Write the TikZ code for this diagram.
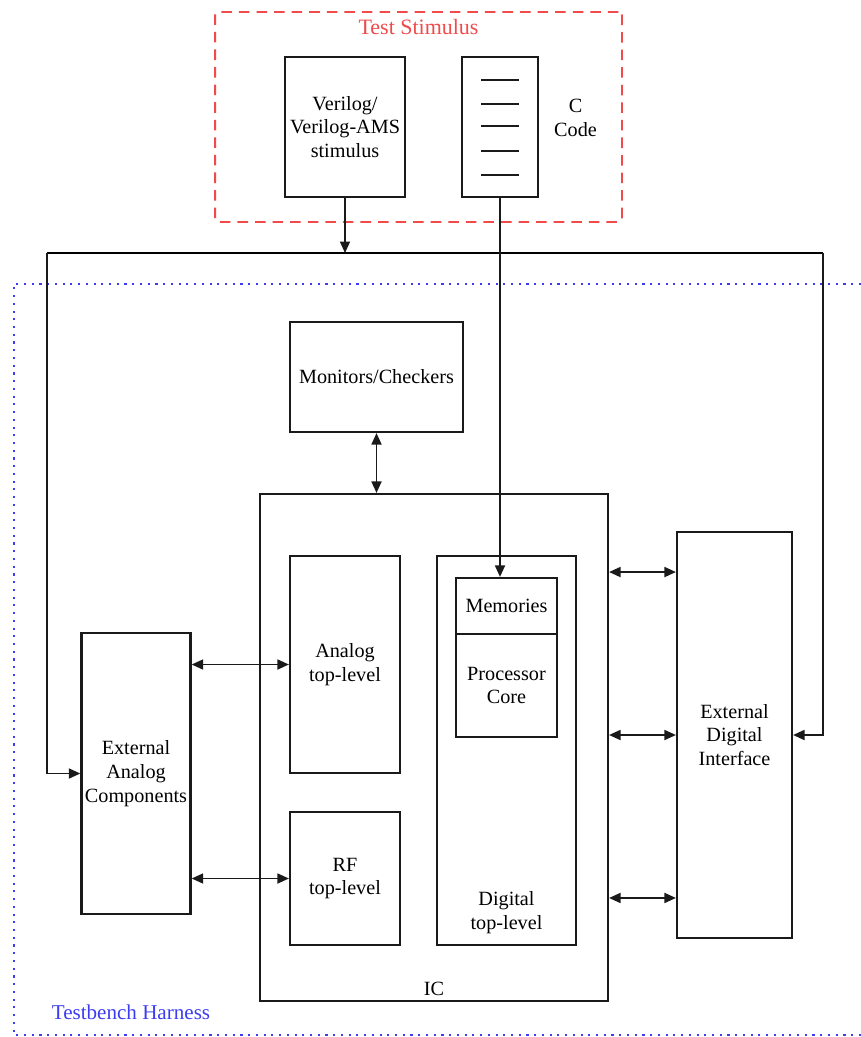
\documentclass[tikz,border=0pt]{standalone}
\usepackage{fontspec}
\setmainfont{Liberation Serif}
\usepackage{xcolor}
\definecolor{ink}{HTML}{1A1A1A}
\definecolor{stimred}{HTML}{F04A4A}
\definecolor{harnblue}{HTML}{3C3CF2}
\usetikzlibrary{arrows.meta,positioning,calc}
\tikzset{
  every picture/.style={font=\fontsize{11.5}{13.6}\selectfont, line width=1pt},
  blk/.style 2 args={draw=ink, line width=1.25pt, align=center, inner sep=2pt, minimum width=#1, minimum height=#2},
  arr/.style={-{Triangle[length=2.3mm, width=2mm]}, draw=ink},
  darr/.style={{Triangle[length=2.3mm, width=2mm]}-{Triangle[length=2.3mm, width=2mm]}, draw=ink},
  stimframe/.style={draw=stimred, dashed, dash pattern=on 6pt off 4pt, line width=1.1pt, rounded corners=2pt},
  harness/.style={draw=harnblue, line width=1pt, dash pattern=on 1.2pt off 3.2pt},
  tag/.style={align=center, inner sep=1pt},
}

\begin{document}
\begin{tikzpicture}[x=0.02cm, y=-0.02cm,
    codeline/.style={draw=ink, line width=1.1pt}]
  \useasboundingbox (0,0) rectangle (861,1037);
  % test stimulus
  \node[stimframe, minimum width=8.14cm, minimum height=4.2cm] (stim) at (418.5,117) {};
  \node[tag, text=stimred, font=\fontsize{12.5}{15}\selectfont, below=3pt of stim.north] (stimlbl) {Test Stimulus};
  \node[blk={2.4cm}{2.8cm}] (verilog) at (345,127) {Verilog/\\Verilog-AMS\\stimulus};
  \node[blk={1.52cm}{2.8cm}] (ccode) at (500,127) {};
  \foreach \y in {80,104,126,151,175}
    \draw[codeline] (481,\y) -- (519,\y);
  \node[tag, right=0.25cm of ccode.east, yshift=0.18cm] (ccodelbl) {C\\Code};
  % testbench harness
  \draw[harness] (861,284) -- (14,284) -- (14,1035) -- (861,1035);
  \node[tag, text=harnblue, font=\fontsize{12}{14}\selectfont] (harnlbl) at (131,1012) {Testbench Harness};
  \node[blk={3.46cm}{2.2cm}] (monitors) at (376.5,377) {Monitors/Checkers};
  \node[blk={6.96cm}{10.14cm}] (ic) at (434,747.5) {};
  \node[tag, above=2pt of ic.south] (iclbl) {IC};
  \node[blk={2.2cm}{4.34cm}] (analog) at (345,664.5) {Analog\\top-level};
  \node[blk={2.2cm}{2.66cm}] (rf) at (345,878.5) {RF\\top-level};
  \node[blk={2.78cm}{7.78cm}] (digital) at (506.5,750.5) {};
  \node[tag, above=0.2cm of digital.south] (digitallbl) {Digital\\top-level};
  \node[blk={2.02cm}{1.12cm}] (mem) at (506.5,606) {Memories};
  \node[blk={2.02cm}{2.06cm}] (core) at (506.5,685.5) {Processor\\Core};
  \node[blk={2.16cm}{5.62cm}] (extana) at (136,773.5) {External\\Analog\\Components};
  \node[blk={2.3cm}{8.12cm}] (extdig) at (734.5,735) {External\\Digital\\Interface};
  % bus
  \coordinate (busL) at (47,253);
  \coordinate (busR) at (823,253);
  \draw (busL) -- (busR);
  \draw[arr] (verilog.south) -- (verilog.south |- busL);
  \draw[arr] (busL) |- (extana.west);
  \draw[arr] (busR) |- (extdig.east);
  \draw[arr] (ccode.south) -- (ccode.south |- mem.north);
  \draw[darr] (monitors.south) -- (monitors.south |- ic.north);
  \draw[darr] (analog.west -| extana.east) -- (analog.west);
  \draw[darr] (rf.west -| extana.east) -- (rf.west);
  \foreach \dy [count=\i] in {3.26,0,-3.26} {
    \coordinate (dp\i) at ([yshift=\dy cm]extdig.west);
    \draw[darr] (ic.east |- dp\i) -- (dp\i);
  }
\end{tikzpicture}
\end{document}
